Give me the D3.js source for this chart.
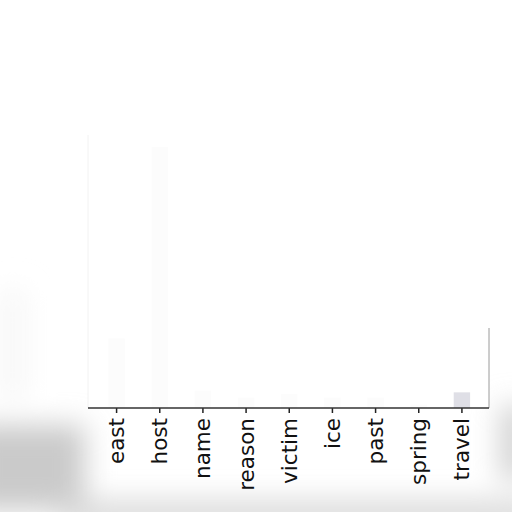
<!DOCTYPE html>
<html>
<head>
<meta charset="utf-8">
<script src="https://cdn.jsdelivr.net/npm/d3@7"></script>
<style>
  body { margin: 0; background: #fff; }
  svg { display: block; }
</style>
</head>
<body>
<svg id="chart" width="512" height="512"></svg>
<script>
// categories and values (bars are almost washed out)
const categories = ["east", "host", "name", "reason", "victim", "ice", "past", "spring", "travel"]
const values = [20, 75, 5, 3, 4, 3, 3, 1, 4.5]
const yMax = 100

const svg = d3.select("#chart")
const width = 512, height = 512
const margin = { top: 60, right: 23, bottom: 104, left: 88 }
const plotW = width - margin.left - margin.right
const plotH = height - margin.top - margin.bottom

// soft grey smudge around the lower part of the picture
const defs = svg.append("defs")
defs.append("filter").attr("id", "blur")
    .attr("x", "-50%").attr("y", "-50%").attr("width", "200%").attr("height", "200%")
    .append("feGaussianBlur").attr("stdDeviation", 14)

const smudge = svg.append("g").attr("filter", "url(#blur)")
smudge.append("rect").attr("x", -30).attr("y", 425).attr("width", 115).attr("height", 85)
    .attr("fill", "#cacaca")
smudge.append("rect").attr("x", 60).attr("y", 500).attr("width", 480).attr("height", 30)
    .attr("fill", "#dadada")
smudge.append("rect").attr("x", 500).attr("y", 405).attr("width", 30).attr("height", 75)
    .attr("fill", "#d2d2d2")
smudge.append("rect").attr("x", 0).attr("y", 290).attr("width", 25).attr("height", 110)
    .attr("fill", "#f6f6f6")

const g = svg.append("g").attr("transform", `translate(${margin.left},${margin.top})`)

g.append("rect").attr("width", plotW).attr("height", plotH).attr("fill", "#fff")

const x = d3.scaleBand()
    .domain(categories)
    .range([7, 395.5])
    .paddingInner(0.62)
    .paddingOuter(0.31)

const y = d3.scaleLinear().domain([0, yMax]).range([plotH, 0])

// bars: faded almost to white, only the last one still shows
g.append("g")
    .selectAll("rect")
    .data(values)
    .join("rect")
    .attr("x", (d, i) => x(categories[i]))
    .attr("y", d => y(d))
    .attr("width", x.bandwidth())
    .attr("height", d => plotH - y(d))
    .attr("fill", (d, i) => i === categories.length - 1 ? "#dfdfe6" : "#fcfcfc")

// faint frame sides
g.append("line").attr("x1", 0).attr("x2", 0).attr("y1", 75).attr("y2", plotH)
    .attr("stroke", "#f2f2f2")
g.append("line").attr("x1", plotW).attr("x2", plotW).attr("y1", plotH - 80).attr("y2", plotH)
    .attr("stroke", "#9a9a9a")

const xAxis = g.append("g")
    .attr("transform", `translate(0,${plotH})`)
    .call(d3.axisBottom(x).tickSize(5).tickSizeOuter(0))

xAxis.select(".domain").remove()
xAxis.append("line")
    .attr("x1", 0).attr("x2", plotW)
    .attr("stroke", "#333").attr("stroke-width", 1.5)
xAxis.selectAll(".tick line").attr("stroke", "#222").attr("stroke-width", 1.5)
xAxis.selectAll(".tick text")
    .attr("font-family", "DejaVu Sans")
    .attr("font-size", 21.5)
    .attr("fill", "#111")
    .attr("text-anchor", "end")
    .attr("transform", "rotate(-90)")
    .attr("x", -10)
    .attr("y", 0)
    .attr("dy", "0.35em")
</script>
</body>
</html>
